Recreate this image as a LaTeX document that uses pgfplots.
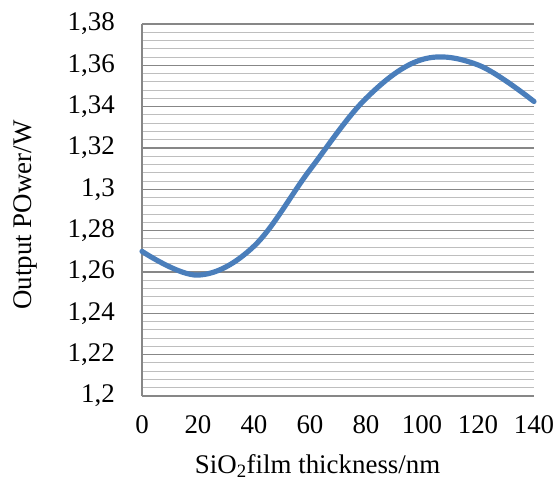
\documentclass[border=0pt]{standalone}
\usepackage{fontspec}
\setmainfont{Liberation Serif}
\usepackage{pgfplots}
\pgfplotsset{compat=1.18}
\usetikzlibrary{calc}
\definecolor{curveblue}{HTML}{4A7EBB}
\definecolor{majgrid}{HTML}{878787}
\definecolor{mingrid}{HTML}{BEBEBE}
\begin{document}
\fontsize{27}{32}\selectfont
\begin{tikzpicture}
\begin{axis}[
  name=ax,
  scale only axis,
  width=392bp, height=372bp,
  xmin=0, xmax=140,
  ymin=1.2, ymax=1.38,
  xtick={0,20,...,140},
  ytick={1.2,1.22,1.24,1.26,1.28,1.3,1.32,1.34,1.36,1.38},
  yticklabels={{1,2},{1,22},{1,24},{1,26},{1,28},{1,3},{1,32},{1,34},{1,36},{1,38}},
  /pgf/number format/assume math mode=true,
  minor y tick num=4,
  ymajorgrids, yminorgrids,
  major grid style={majgrid, line width=1.1pt},
  minor grid style={mingrid, line width=1.1pt},
  axis x line*=bottom,
  axis y line*=left,
  axis line style={majgrid, line width=1.1pt},
  tick style={draw=none},
  tick label style={font=\fontsize{27}{32}\selectfont, inner sep=0pt},
  label style={font=\fontsize{27}{32}\selectfont, inner sep=0pt},
  xticklabel style={anchor=north, yshift=-19bp},
  yticklabel style={anchor=east, xshift=-27bp},
  xlabel={SiO\textsubscript{2}film thickness/nm},
  ylabel={Output POwer/W},
  xlabel style={at={(rel axis cs:0.448,0)}, anchor=north, yshift=-58bp},
  ylabel style={at={(rel axis cs:0,0.4866)}, anchor=center, rotate=0, yshift=117bp},
  clip=false,
]
\addplot[curveblue, line width=5.2pt, smooth, tension=0.6, line cap=round] coordinates {
  (0,1.2700) (20,1.2585) (40,1.2725) (60,1.3095)
  (80,1.3440) (100,1.3628) (120,1.3602) (140,1.3425)
};
\end{axis}
\pgfresetboundingbox
\path[use as bounding box] ($(ax.south west)+(-142bp,-83bp)$) rectangle ($(ax.north east)+(23bp,24bp)$);
\end{tikzpicture}
\end{document}
